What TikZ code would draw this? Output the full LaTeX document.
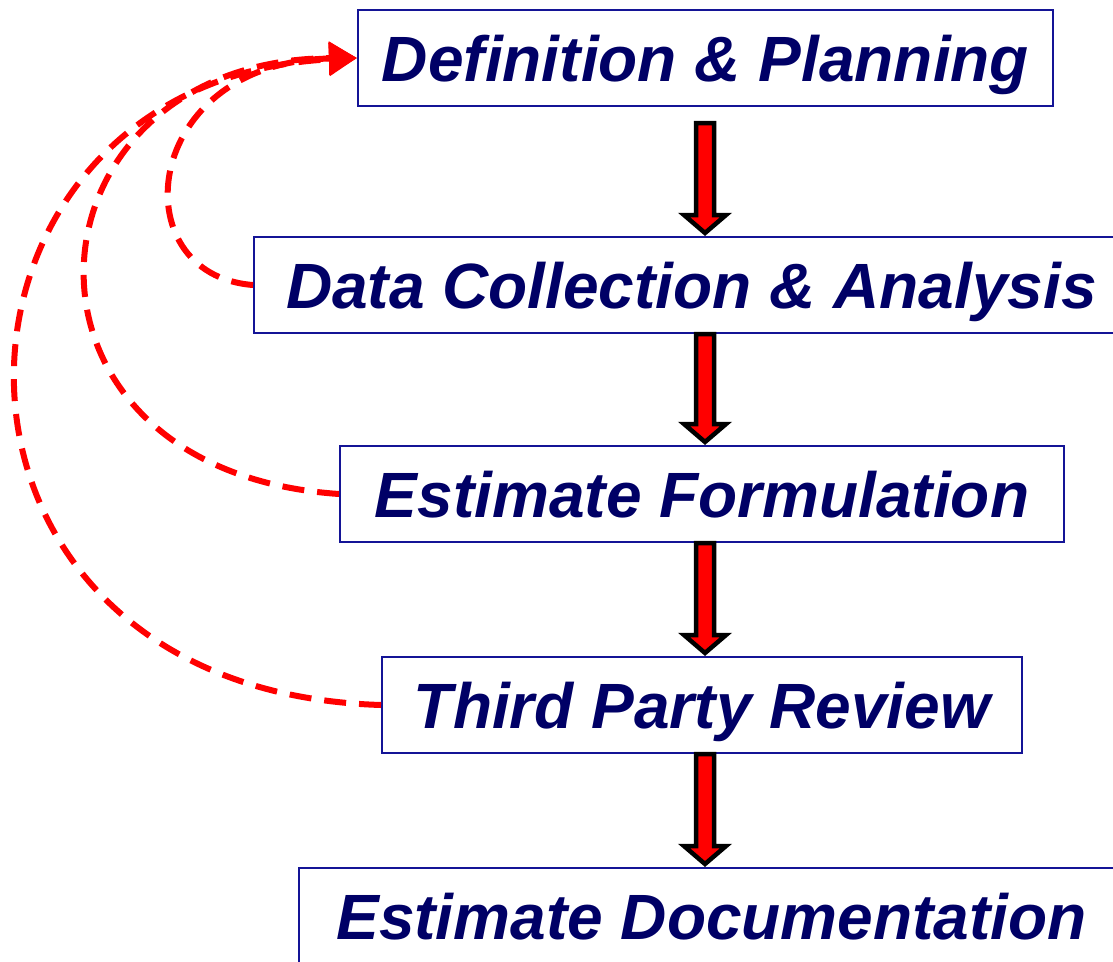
\documentclass[tikz,border=0pt]{standalone}
\usepackage{fontspec}
\setmainfont{Liberation Sans}
\usepackage{xcolor}
\usetikzlibrary{shapes,arrows.meta,positioning,calc}

\definecolor{boxblue}{RGB}{20,20,150}
\definecolor{textblue}{RGB}{0,0,102}

\tikzset{
    stage/.style={rectangle, draw=boxblue, line width=2pt, fill=white, text=textblue,
        font=\fontsize{64}{70}\selectfont\bfseries\itshape,
        minimum height=96pt, inner sep=0pt, text height=46pt, text depth=0pt},
    flowarrow/.style={draw=black, fill=red, line width=4.5pt, miter limit=4,
        to path={let \p1=(\tikztostart), \p2=(\tikztotarget) in
            (\x1-9pt,\y1) -- (\x1+9pt,\y1) -- (\x1+9pt,\y2+21pt) -- (\x1+21pt,\y2+21pt)
            -- (\x1,\y2+3pt) -- (\x1-21pt,\y2+21pt) -- (\x1-9pt,\y2+21pt) -- cycle}},
    feedback/.style={red, line width=6pt, dash pattern=on 22pt off 13pt,
        -{Triangle[width=32pt,length=28pt]}}
}

\begin{document}
\begin{tikzpicture}[x=1pt, y=1pt]
    \useasboundingbox[fill=white] (0,0) rectangle (1113,-961);

    \node[stage, minimum width=695pt] (def) at (705.5,-58) {Definition \& Planning};
    \node[stage, minimum width=875pt] (data) at (691.5,-285) {Data Collection \& Analysis};
    \node[stage, minimum width=724pt] (form) at (702,-494) {Estimate Formulation};
    \node[stage, minimum width=640pt] (review) at (702,-705) {Third Party Review};
    \node[stage, minimum width=825pt] (doc) at (711.5,-916) {Estimate Documentation};

    % block arrows run down a common spine
    \coordinate (spine) at (705,0);
    \draw[flowarrow] ($(def.south -| spine)+(0,-16)$) to (data.north -| spine);
    \draw[flowarrow] (data.south -| spine) to (form.north -| spine);
    \draw[flowarrow] (form.south -| spine) to (review.north -| spine);
    \draw[flowarrow] (review.south -| spine) to (doc.north -| spine);

    % dashed loops back to the first stage
    \draw[feedback] (data.west) .. controls (120,-275) and (140,-62) .. (def.west);
    \draw[feedback] (form.west) .. controls (-15,-470) and (15,-60) .. (def.west);
    \draw[feedback] (review.west) .. controls (-110,-690) and (-90,-80) .. (def.west);
\end{tikzpicture}
\end{document}
